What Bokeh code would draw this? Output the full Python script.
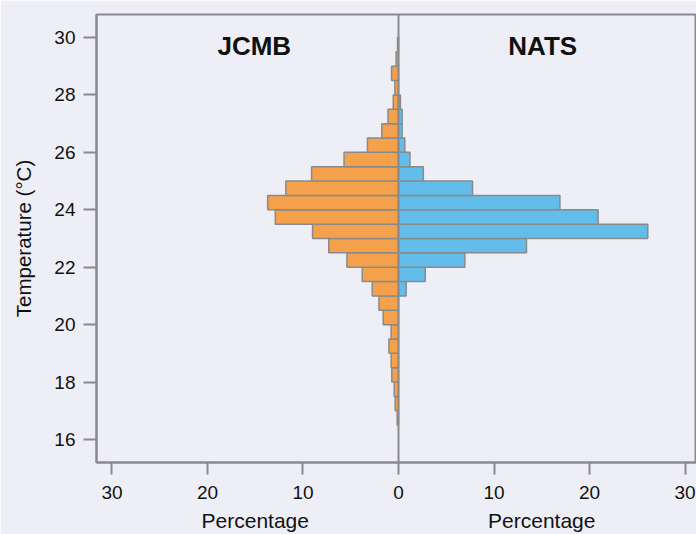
from bokeh.plotting import figure
from bokeh.models import (LinearAxis, FixedTicker, Range1d, Label, Span, ColumnDataSource)
from bokeh.embed import file_html
from bokeh.resources import INLINE

# ---- data ----
bin_low = [16.5, 17.0, 17.5, 18.0, 18.5, 19.0, 19.5, 20.0, 20.5, 21.0, 21.5, 22.0, 22.5,
           23.0, 23.5, 24.0, 24.5, 25.0, 25.5, 26.0, 26.5, 27.0, 27.5, 28.0, 28.5, 29.0, 29.5]
bin_width = 0.5
jcmb = [0.14, 0.35, 0.45, 0.7, 0.77, 1.0, 0.77, 1.6, 2.05, 2.75, 3.8, 5.4, 7.3,
        9.0, 12.9, 13.7, 11.8, 9.1, 5.7, 3.25, 1.75, 1.1, 0.55, 0.38, 0.73, 0.25, 0.1]
nats = [0, 0, 0, 0, 0, 0, 0, 0, 0, 0.8, 2.8, 6.95, 13.4,
        26.1, 20.9, 16.9, 7.75, 2.6, 1.2, 0.66, 0.38, 0.38, 0.2, 0, 0, 0, 0]
x_ticks = [-30, -20, -10, 0, 10, 20, 30]
y_ticks = [16, 18, 20, 22, 24, 26, 28, 30]
panel_names = ["JCMB", "NATS"]

BG = "#EEEFF6"
GRAY = "#8a8a8a"
ORANGE = "#F5A04A"
BLUE = "#63BDEA"
FONT = "Liberation Sans"

p = figure(width=696, height=534, output_backend="svg", toolbar_location=None,
           x_range=Range1d(-31.62, 31.2), y_range=Range1d(15.2, 30.8),
           min_border_left=96, min_border_right=0, min_border_top=14, min_border_bottom=72,
           x_axis_location=None, y_axis_location=None)
p.background_fill_color = BG
p.border_fill_color = BG
p.outline_line_color = GRAY
p.outline_line_width = 2
p.xgrid.visible = False
p.ygrid.visible = False

centers = [b + bin_width / 2 for b in bin_low]
src_j = ColumnDataSource(dict(y=[c for c, v in zip(centers, jcmb) if v > 0],
                              left=[-v for v in jcmb if v > 0],
                              right=[0 for v in jcmb if v > 0]))
src_n = ColumnDataSource(dict(y=[c for c, v in zip(centers, nats) if v > 0],
                              left=[0 for v in nats if v > 0],
                              right=[v for v in nats if v > 0]))
p.hbar(y="y", left="left", right="right", height=bin_width, source=src_j,
       fill_color=ORANGE, line_color=GRAY, line_width=1.5)
p.hbar(y="y", left="left", right="right", height=bin_width, source=src_n,
       fill_color=BLUE, line_color=GRAY, line_width=1.5)

p.add_layout(Span(location=0, dimension="height", line_color=GRAY, line_width=2))

# axes
xa = LinearAxis(ticker=FixedTicker(ticks=x_ticks),
                major_label_overrides={t: str(abs(t)) for t in x_ticks})
ya = LinearAxis(ticker=FixedTicker(ticks=y_ticks), axis_label="Temperature (°C)")
for ax in (xa, ya):
    ax.axis_line_color = GRAY
    ax.axis_line_width = 2
    ax.major_tick_line_color = GRAY
    ax.major_tick_line_width = 2
    ax.major_tick_in = 0
    ax.major_tick_out = 12
    ax.minor_tick_line_color = None
    ax.major_label_text_font = FONT
    ax.major_label_text_font_size = "19px"
    ax.major_label_text_color = "#111111"
    ax.major_label_standoff = 8
xa.major_label_standoff = 11
ya.major_tick_out = 13
ya.axis_label_text_font = FONT
ya.axis_label_text_font_size = "20.5px"
ya.axis_label_text_font_style = "normal"
ya.axis_label_text_color = "#111111"
ya.axis_label_standoff = 16
p.add_layout(ya, "left")
p.add_layout(xa, "below")

xa2 = LinearAxis(ticker=FixedTicker(ticks=[-15, 15]),
                 major_label_overrides={-15: "Percentage", 15: "Percentage"})
xa2.axis_line_color = None
xa2.major_tick_line_color = None
xa2.minor_tick_line_color = None
xa2.major_tick_out = 0
xa2.major_label_standoff = 7
xa2.major_label_text_font = FONT
xa2.major_label_text_font_size = "21px"
xa2.major_label_text_color = "#111111"
p.add_layout(xa2, "below")

for name, xc in zip(panel_names, [-15.1, 15.1]):
    p.add_layout(Label(x=xc, y=29.69, text=name, text_align="center", text_baseline="middle",
                       text_font=FONT, text_font_size="26px", text_font_style="bold",
                       text_color="#111111"))

open("out.html", "w").write(file_html(p, INLINE))
